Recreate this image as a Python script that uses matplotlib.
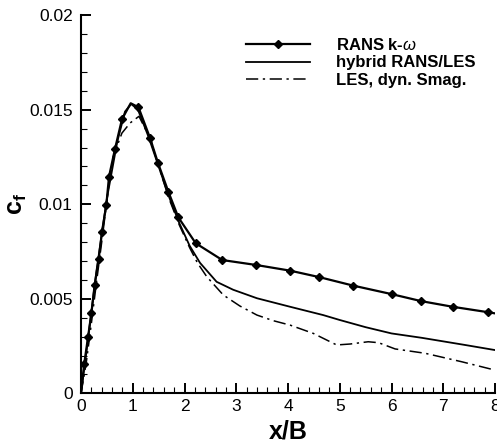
import matplotlib
matplotlib.use("Agg")
import matplotlib.pyplot as plt
from matplotlib.ticker import MultipleLocator, FuncFormatter

plt.rcParams['font.family'] = ['Liberation Sans', 'DejaVu Sans']
plt.rcParams['mathtext.fontset'] = 'custom'
plt.rcParams['mathtext.rm'] = 'Liberation Sans'
plt.rcParams['mathtext.bf'] = 'Liberation Sans:bold'
plt.rcParams['mathtext.it'] = 'Liberation Sans:italic'

# ---- data ----
rans_x = [0.0, 0.06, 0.135, 0.2, 0.264, 0.341, 0.406, 0.489, 0.541, 0.657, 0.792, 0.96,
          1.11, 1.333, 1.488, 1.687, 1.88, 2.216, 2.73, 3.382, 4.039, 4.6, 5.256,
          6.0, 6.57, 7.18, 7.87, 8.0]
rans_y = [0.0, 0.00153, 0.00296, 0.00423, 0.00573, 0.00709, 0.00855, 0.00996, 0.01146,
          0.01293, 0.0145, 0.01534, 0.01513, 0.01351, 0.01218, 0.01067, 0.00931, 0.00794,
          0.00705, 0.00679, 0.00649, 0.00615, 0.0057, 0.00525, 0.00488, 0.00458,
          0.00429, 0.00423]
rans_marks = [i for i in range(1, len(rans_x) - 1) if i != 11]

hyb_x = [0.0, 0.1, 0.3, 0.5, 0.7, 0.85, 0.97, 1.1, 1.3, 1.5, 1.7, 1.9, 2.1, 2.3,
         2.62, 2.94, 3.4, 4.04, 4.68, 5.0, 5.5, 6.0, 6.58, 7.42, 8.0]
hyb_y = [0.0, 0.0021, 0.0065, 0.0103, 0.0133, 0.0149, 0.0153, 0.0150, 0.0136, 0.0120,
         0.0104, 0.0090, 0.0078, 0.0069, 0.0059, 0.00548, 0.00503, 0.00458, 0.00414,
         0.00388, 0.0035, 0.00317, 0.00294, 0.00256, 0.00229]

les_x = [0.0, 0.1, 0.2, 0.3, 0.4, 0.51, 0.55, 0.62, 0.79, 0.95, 1.12, 1.35, 1.5, 1.7,
         1.9, 2.1, 2.25, 2.43, 2.75, 3.07, 3.4, 3.72, 4.04, 4.49, 4.94, 5.2, 5.55,
         5.75, 6.07, 6.65, 7.36, 8.0]
les_y = [0.0, 0.0016, 0.0037, 0.0059, 0.0080, 0.0104, 0.0113, 0.0125, 0.01376, 0.0143,
         0.01465, 0.0134, 0.0120, 0.0103, 0.0089, 0.0077, 0.0069, 0.00617, 0.0052,
         0.00462, 0.00414, 0.00384, 0.00361, 0.00317, 0.00256, 0.00261, 0.00273,
         0.00268, 0.00235, 0.00212, 0.00167, 0.00123]

labels = ['RANS k-$\\omega$', 'hybrid RANS/LES', 'LES, dyn. Smag.']

fig = plt.figure(figsize=(4.97, 4.45), dpi=100)
ax = fig.add_axes([0.163, 0.116, 0.833, 0.85])

ax.plot(rans_x, rans_y, color='black', lw=1.6, marker='D', ms=4,
        markevery=rans_marks, label=labels[0])
ax.plot(hyb_x, hyb_y, color='black', lw=1.3, label=labels[1])
ax.plot(les_x, les_y, color='black', lw=1.1, linestyle=(0, (8, 3, 1.5, 3)),
        label=labels[2])

ax.set_xlim(0, 8)
ax.set_ylim(0, 0.02)
ax.xaxis.set_major_locator(MultipleLocator(1))
ax.xaxis.set_minor_locator(MultipleLocator(0.2))
ax.yaxis.set_major_locator(MultipleLocator(0.005))
ax.yaxis.set_minor_locator(MultipleLocator(0.001))
ax.yaxis.set_major_formatter(FuncFormatter(lambda v, p: '%g' % round(v, 4)))
ax.xaxis.set_major_formatter(FuncFormatter(lambda v, p: '%g' % v))

for s in ['top', 'right']:
    ax.spines[s].set_visible(False)
for s in ['left', 'bottom']:
    ax.spines[s].set_linewidth(1.5)

ax.tick_params(which='major', direction='in', length=7, width=1.4, labelsize=12.5)
ax.tick_params(which='minor', direction='in', length=4, width=0.8)
ax.tick_params(axis='x', pad=4)
ax.tick_params(axis='y', pad=6)

ax.set_xlabel('x/B', fontsize=18, fontweight='bold', labelpad=4)
ax.set_ylabel('$\\mathbf{c_f}$', fontsize=18)
ax.yaxis.set_label_coords(-0.125, 0.5)

leg = ax.legend(loc='upper right', bbox_to_anchor=(0.99, 0.982), frameon=False,
                numpoints=1, handlelength=3.8, handletextpad=1.6, labelspacing=0.15,
                prop={'weight': 'bold', 'size': 12})

fig.savefig('out.png', dpi=100)
